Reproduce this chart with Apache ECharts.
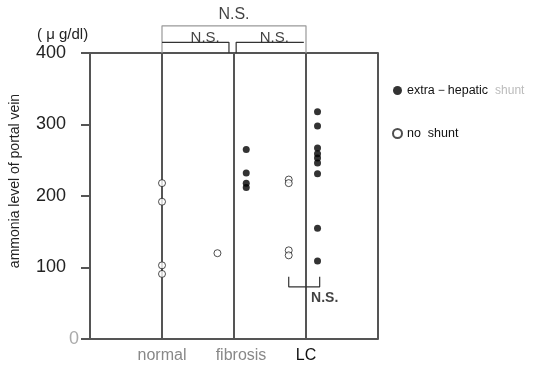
<!DOCTYPE html>
<html>
<head>
<meta charset="utf-8">
<script src="https://cdn.jsdelivr.net/npm/echarts@6/dist/echarts.min.js"></script>
<style>
  html, body { margin: 0; padding: 0; background: #fff; }
  #chart { width: 534px; height: 366px; }
</style>
</head>
<body>
<div id="chart"></div>
<script>
// groups on the x axis (1 = normal, 2 = fibrosis, 3 = LC)
var groups = ['normal', 'fibrosis', 'LC'];
var yTicks = [0, 100, 200, 300, 400];

// extra-hepatic shunt (filled dots)
var shuntFibrosis = [265, 232, 218, 212];
var shuntLC = [318, 298, 267, 259, 253, 246, 231, 155, 109];

// no shunt (open circles)
var noShuntNormal = [218, 192, 103, 91];
var noShuntFibrosis = [120];
var noShuntLC = [223, 218, 124, 117];

// N.S. brackets, in data units
var bracketOuter = [[1, 400], [1, 438], [3, 438], [3, 400]];
var bracketLeft = [[1, 415], [1.93, 415], [1.93, 400]];
var bracketRight = [[2.03, 400], [2.03, 415], [2.97, 415]];
var bracketLC = [[2.76, 87], [2.76, 73], [3.19, 73], [3.19, 87]];
var nsTop = [[2, 454]];
var nsInner = [[1.6, 421], [2.56, 421]];
var nsLC = [[3.26, 57]];

function place(vals, x) {
  return vals.map(function (v) { return [x, v]; });
}

var chartDom = document.getElementById('chart');
var myChart = echarts.init(chartDom);

var lineCol = '#555';
var font = 'Liberation Sans, Arial, sans-serif';

function bracket(data, color) {
  return {
    type: 'line',
    data: data,
    symbol: 'none',
    clip: false,
    silent: true,
    lineStyle: { color: color, width: 1.2 },
    z: 1
  };
}

function nsText(data, size, weight) {
  return {
    type: 'scatter',
    symbolSize: 0,
    silent: true,
    clip: false,
    data: data,
    label: {
      show: true,
      position: 'inside',
      formatter: 'N.S.',
      fontSize: size,
      fontWeight: weight,
      color: '#111'
    },
    z: 6
  };
}

var option = {
  animation: false,
  textStyle: { fontFamily: font },
  title: {
    text: '( \u03bc g/dl)',
    left: 32,
    top: 22,
    textStyle: { fontSize: 15, fontWeight: 'normal', color: '#222', fontFamily: font }
  },
  legend: {
    orient: 'vertical',
    left: 387,
    top: 79,
    itemGap: 30,
    itemWidth: 9,
    itemHeight: 9,
    icon: 'circle',
    data: ['extra\uff0dhepatic shunt', 'no shunt'],
    formatter: function (name) {
      if (name === 'no shunt') return 'no  shunt';
      return 'extra\uff0dhepatic  {g|shunt}';
    },
    textStyle: {
      fontSize: 12.5,
      color: '#111',
      rich: { g: { color: '#bbb', fontSize: 12 } }
    }
  },
  grid: { left: 90, right: 156, top: 53, bottom: 27 },
  xAxis: [
    {
      type: 'value',
      min: 0,
      max: 4,
      interval: 1,
      axisLine: { show: true, lineStyle: { color: lineCol, width: 2 } },
      axisTick: { show: false },
      splitLine: { show: true, lineStyle: { color: lineCol, width: 2 } },
      axisLabel: {
        margin: 9,
        formatter: function (v) {
          if (v === 1) return '{g|' + groups[0] + '}';
          if (v === 2) return '{f|' + groups[1] + '}';
          if (v === 3) return '{k|' + groups[2] + '}';
          return '';
        },
        rich: {
          g: { color: '#888', fontSize: 16 },
          f: { color: '#888', fontSize: 16, padding: [0, 0, 0, 14] },
          k: { color: '#111', fontSize: 16 }
        }
      }
    },
    {
      type: 'value',
      position: 'top',
      min: 0,
      max: 4,
      axisLine: { show: true, onZero: false, lineStyle: { color: lineCol, width: 2 } },
      axisTick: { show: false },
      axisLabel: { show: false },
      splitLine: { show: false }
    }
  ],
  yAxis: {
    type: 'value',
    min: 0,
    max: 400,
    interval: 100,
    name: 'ammonia level of portal vein',
    nameLocation: 'middle',
    nameGap: 68,
    nameTextStyle: { fontSize: 14, color: '#222', padding: [0, 0, 0, 30] },
    axisLine: { show: true, lineStyle: { color: lineCol, width: 2 } },
    axisTick: { show: true, length: 9, lineStyle: { color: lineCol, width: 2 } },
    splitLine: { show: false },
    axisLabel: {
      margin: 11,
      formatter: function (v) {
        return v === 0 ? '{z|0}' : '{n|' + v + '}';
      },
      rich: {
        n: { fontSize: 18, color: '#222', padding: [0, 13, 0, 0] },
        z: { fontSize: 18, color: '#aaa' }
      }
    }
  },
  series: [
    {
      name: 'extra\uff0dhepatic shunt',
      type: 'scatter',
      symbol: 'circle',
      symbolSize: 7,
      itemStyle: { color: '#000' },
      data: place(shuntFibrosis, 2.17).concat(place(shuntLC, 3.16)),
      z: 5
    },
    {
      name: 'no shunt',
      type: 'scatter',
      symbol: 'circle',
      symbolSize: 7,
      itemStyle: { color: '#fff', borderColor: '#222', borderWidth: 1 },
      data: place(noShuntNormal, 1).concat(place(noShuntFibrosis, 1.77)).concat(place(noShuntLC, 2.76)),
      z: 5
    },
    bracket(bracketOuter, '#999'),
    bracket(bracketLeft, '#333'),
    bracket(bracketRight, '#333'),
    bracket(bracketLC, '#333'),
    nsText(nsTop, 16, 'normal'),
    nsText(nsInner, 15, 'normal'),
    nsText(nsLC, 14, 'bold')
  ]
};

option && myChart.setOption(option);
</script>
</body>
</html>
